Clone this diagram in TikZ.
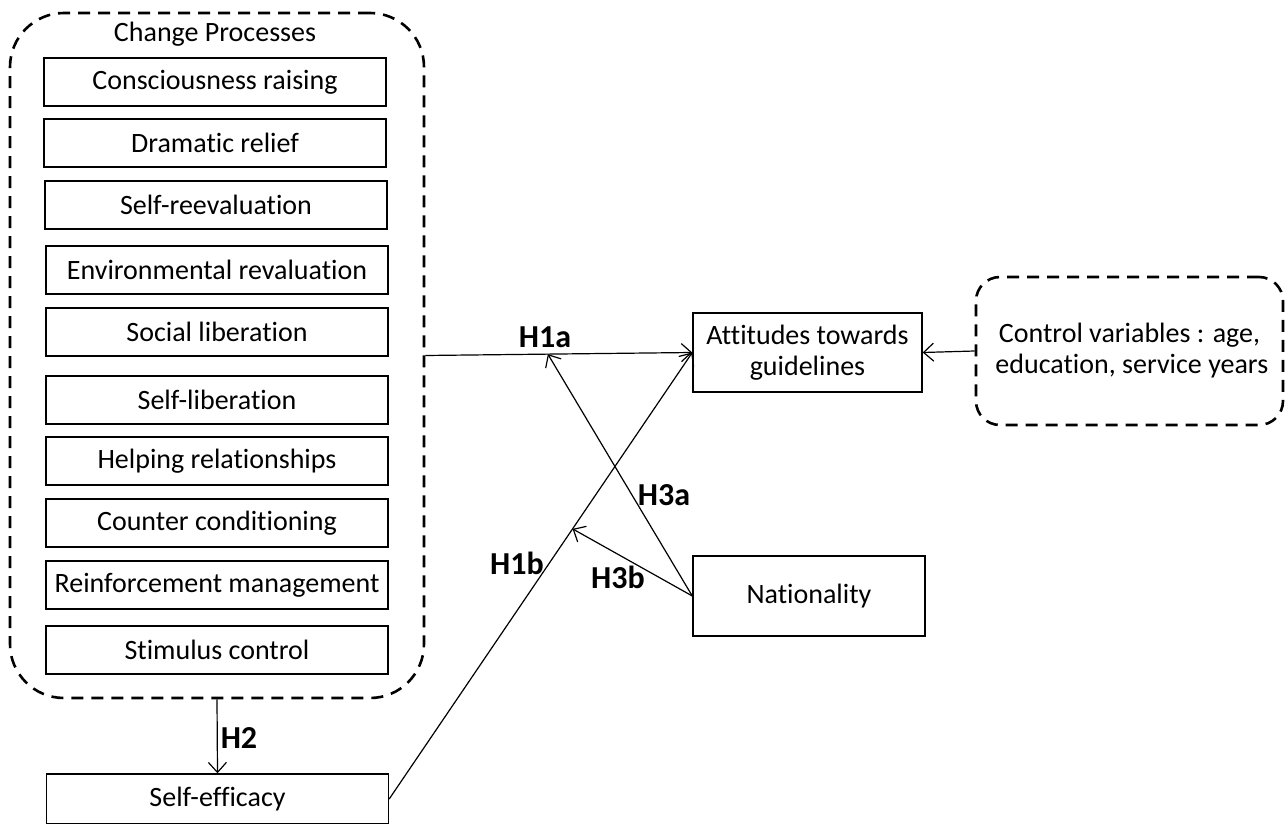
\documentclass[tikz,border=0pt]{standalone}
\usepackage{fontspec}
\setmainfont{Carlito}[Ligatures=CommonOff]
\usepackage{xcolor}
\usepackage{tikz}
\usetikzlibrary{arrows.meta}

\tikzset{
	procbox/.style={draw, line width=0.7pt, minimum width=171pt, minimum height=24pt, inner sep=0pt},
	groupbox/.style={draw, line width=1.3pt, dash pattern=on 6pt off 4pt},
	hyp/.style={font=\fontsize{16}{18}\selectfont\bfseries},
	link/.style={-{Straight Barb[length=5pt,width=9pt]}, line width=0.6pt}
}

\begin{document}
\begin{tikzpicture}[x=0.5pt, y=-0.5pt, font=\fontsize{14}{15.5}\selectfont]
				\useasboundingbox (0, 0) rectangle (1287, 824);
				
				%Change processes group
				\node[groupbox, rounded corners=27pt, minimum width=207pt, minimum height=342.5pt] (cp) at (217, 355.5) {};
				\node (cptitle) at (215, 34) {Change Processes};
				
				%Processes
				\node[procbox] (p1) at (215, 82) {Consciousness raising};
				\node[procbox] (p2) at (215, 143) {Dramatic relief};
				\node[procbox] (p3) at (216, 205) {Self-reevaluation};
				\node[procbox] (p4) at (217, 270) {Environmental revaluation};
				\node[procbox] (p5) at (217, 332) {Social liberation};
				\node[procbox] (p6) at (217, 400) {Self-liberation};
				\node[procbox] (p7) at (217, 461) {Helping relationships};
				\node[procbox] (p8) at (217, 523) {Counter conditioning};
				\node[procbox] (p9) at (217, 585) {Reinforcement management};
				\node[procbox] (p10) at (217, 650) {Stimulus control};
				
				%Self-efficacy
				\node[procbox, minimum height=25pt] (se) at (217.5, 799) {Self-efficacy};
				
				%Outcome
				\node[procbox, minimum width=114.5pt, minimum height=39.5pt, align=center] (att) at (807.5, 352.5) {Attitudes towards\\guidelines};
				
				%Moderator
				\node[procbox, minimum width=116pt, minimum height=40pt] (nat) at (809, 596) {Nationality};
				
				%Controls
				\node[groupbox, rounded corners=12pt, minimum width=153.5pt, minimum height=74pt, align=center] (cv) at (1129.5, 351) {Control variables : age,\\ \,education, service years};
				
				%Lines
				\draw[link] (cp.east) -- coordinate[pos=0.459] (h3aend) (att.west);
				\draw[link] (cp.south) -- (se.north);
				\draw[link] (se.east) -- coordinate[pos=0.605] (h3bend) (att.west);
				\draw[link] (nat.west) -- (h3aend);
				\draw[link] (nat.west) -- (h3bend);
				\draw[link] (cv.west) -- (att.east);
				
				%Hypotheses
				\node[hyp] (h1a) at (545, 337) {H1a};
				\node[hyp] (h1b) at (517, 563) {H1b};
				\node[hyp] (h2) at (239, 738) {H2};
				\node[hyp] (h3a) at (664, 495) {H3a};
				\node[hyp] (h3b) at (618, 577) {H3b};
			\end{tikzpicture}
\end{document}
